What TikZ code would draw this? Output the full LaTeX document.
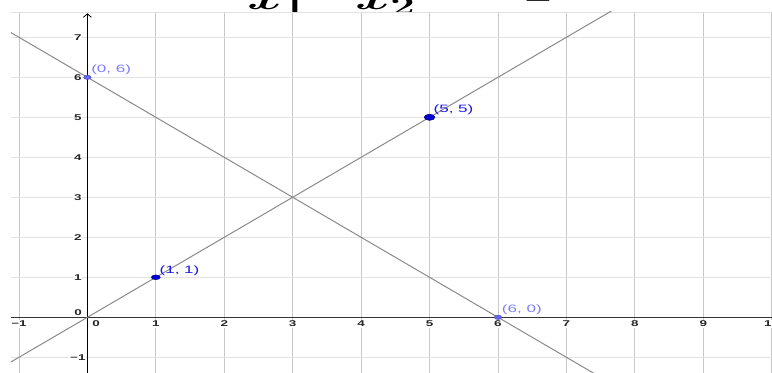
\documentclass[tikz,border=0pt]{standalone}
\usepackage{fontspec}
\setmainfont{Liberation Sans}
\usepackage{graphicx}
\usetikzlibrary{arrows.meta,shapes.geometric}
\definecolor{vgridc}{HTML}{C8C8C8}
\definecolor{hgridc}{HTML}{E2E2E2}
\definecolor{linec}{HTML}{8A8A8A}
\definecolor{lightpt}{HTML}{6666EE}
\definecolor{lightptd}{HTML}{4444BB}
\definecolor{lightlbl}{HTML}{7F7FFF}
\definecolor{darkpt}{HTML}{0000D0}
\definecolor{darkptd}{HTML}{000080}
\definecolor{darklbl}{HTML}{1A1AE6}
\newcommand{\stretchtxt}[1]{\scalebox{1.6}[1]{#1}}
\begin{document}
\begin{tikzpicture}[x=51.3225pt,y=30pt,
  vgrid/.style={draw=vgridc,line width=0.6pt},
  hgrid/.style={draw=hgridc,line width=0.7pt},
  graphline/.style={draw=linec,line width=0.75pt},
  axisline/.style={draw=black,line width=0.7pt},
  axlbl/.style={font=\fontsize{6.3}{7}\selectfont\bfseries,fill=white,inner sep=0.6pt,text=black!85},
  ptlbl/.style={font=\fontsize{8}{9}\selectfont,inner sep=0pt,anchor=west},
  lightdot/.style={ellipse,inner sep=0pt,minimum width=5.6pt,minimum height=3.3pt,fill=lightpt,draw=lightptd,line width=0.3pt},
  darkdot/.style={ellipse,inner sep=0pt,minimum width=6.8pt,minimum height=3.6pt,fill=darkpt,draw=darkptd,line width=0.3pt},
  bigdot/.style={ellipse,inner sep=0pt,minimum width=8pt,minimum height=4.6pt,fill=darkpt,draw=darkptd,line width=0.4pt},
  eqtxt/.style={font=\fontsize{29}{32}\selectfont\boldmath,inner sep=0pt,anchor=base west}
]
\useasboundingbox (-1.2772,-1.3925) rectangle (10.0044,7.9325);
% cropped equation at the top
\begin{scope}
  \clip (-1.2772,7.61) rectangle (10.0044,7.9325);
  \node[eqtxt] (t1) at (2.3323,7.70) {\stretchtxt{$x_1$}};
  \node[eqtxt] (t2) at (3.9106,7.70) {\stretchtxt{$x_2$}};
  \node[font=\fontsize{14}{16}\selectfont\boldmath,inner sep=0pt,anchor=base] (teq) at (6.585,7.85) {\stretchtxt{$=$}};
\end{scope}
% graphics view
\begin{scope}
  \clip (-1.1165,-1.3925) rectangle (10.0044,7.6325);
  \foreach \x in {-1,...,10} \draw[vgrid] (\x,-1.3925) -- (\x,7.6325);
  \foreach \y in {-1,...,7} \draw[hgrid] (-1.1165,\y) -- (10.0044,\y);
  \coordinate (xl) at (-1.1165,0);
  \coordinate (xr) at (10.0044,0);
  \coordinate (yb) at (0,-1.3925);
  \coordinate (yt) at (0,7.60);
  \draw[axisline,draw=black!80] (xl) -- (xr);
  \draw[axisline,-{Straight Barb[length=2.6pt,width=6pt,line width=0.6pt]}] (yb) -- (yt);
\end{scope}
\draw[hgrid] (-1.1165,7.6325) -- (10.0044,7.6325);
% axis labels
\foreach \x/\t in {-1/−1,1/1,2/2,3/3,4/4,5/5,6/6,7/7,8/8,9/9,10/10}
  \node[axlbl] (xl\x) at (\x,-0.165) {\stretchtxt{\t}};
\node[axlbl] (xl0) at (0.126,-0.165) {\stretchtxt{0}};
\foreach \y/\t in {-1/−1,1/1,2/2,3/3,4/4,5/5,6/6,7/7}
  \node[axlbl] (yl\y) at (-0.14,\y) {\stretchtxt{\t}};
\node[axlbl] (yl0) at (-0.137,0.1075) {\stretchtxt{0}};
% lines
\begin{scope}
  \clip (-1.1165,-1.3925) rectangle (10.0044,7.6325);
  \coordinate (La) at (-1.6,7.6);
  \coordinate (Lb) at (7.6,-1.6);
  \coordinate (Ma) at (-1.6,-1.6);
  \coordinate (Mb) at (7.8,7.8);
  \draw[graphline] (La) -- (Lb);
  \draw[graphline] (Ma) -- (Mb);
\end{scope}
% points
\node[lightdot] (p06) at (0,6) {};
\node[lightdot] (p60) at (6,0) {};
\node[darkdot] (p11) at (1,1) {};
\node[bigdot] (p55) at (5,5) {};
\node[ptlbl,text=lightlbl] (l06) at ([shift={(0.053,0.18)}]p06.center) {\stretchtxt{(0, 6)}};
\node[ptlbl,text=lightlbl] (l60) at ([shift={(0.054,0.18)}]p60.center) {\stretchtxt{(6, 0)}};
\node[ptlbl,text=darklbl] (l11) at ([shift={(0.051,0.165)}]p11.center) {\stretchtxt{(1, 1)}};
\node[ptlbl,text=darklbl] (l55) at ([shift={(0.055,0.18)}]p55.center) {\stretchtxt{(5, 5)}};
\end{tikzpicture}
\end{document}
